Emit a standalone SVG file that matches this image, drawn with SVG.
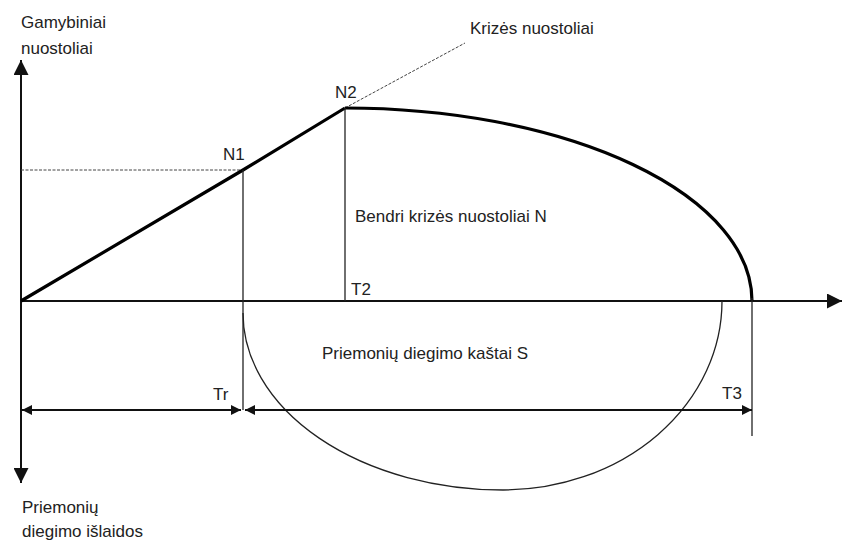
<svg xmlns="http://www.w3.org/2000/svg" width="842" height="546" viewBox="0 0 842 546">
<defs>
<marker id="ah" viewBox="0 0 10 10" refX="10" refY="5" markerWidth="10" markerHeight="10" markerUnits="userSpaceOnUse" orient="auto-start-reverse"><path d="M0,0 L10,5 L0,10 z" fill="#111"/></marker>
<marker id="big" viewBox="0 0 10 10" refX="10" refY="5" markerWidth="15" markerHeight="15" markerUnits="userSpaceOnUse" orient="auto-start-reverse"><path d="M0,0 L10,5 L0,10 z" fill="#111"/></marker>
</defs>
<style>
text{font-family:"Liberation Sans",Arial,sans-serif;font-size:17px;fill:#222}
.ax{stroke:#111;stroke-width:2;fill:none}
.thin{stroke:#222;stroke-width:1.3;fill:none}
.thick{stroke:#000;stroke-width:3.2;fill:none}
.dash{stroke:#444;stroke-width:1;stroke-dasharray:3 1.5;fill:none}
</style>
<rect width="842" height="546" fill="#fff"/>
<g id="connectors">
<line class="ax" x1="21" y1="301" x2="21" y2="60" marker-end="url(#big)"/>
<line class="ax" x1="21" y1="301" x2="21" y2="483" marker-end="url(#big)"/>
<line class="ax" x1="21" y1="301" x2="842" y2="301" marker-end="url(#big)"/>
<line class="dash" x1="21" y1="170" x2="243" y2="170"/>
<line class="dash" x1="345" y1="108" x2="465" y2="43"/>
<polyline class="thick" points="21,301 243,170 345,108"/>
<path class="thick" d="M345,108 A407,193 0 0 1 752,301" stroke-width="3.6"/>
<line class="thin" x1="243" y1="170" x2="243" y2="410"/>
<line class="thin" x1="345" y1="108" x2="345" y2="301"/>
<line class="thin" x1="752" y1="298" x2="752" y2="436"/>
<path class="thin" d="M243,313 A260,177 0 0 0 503,490 A219,189 0 0 0 722,301"/>
<line class="ax" x1="22" y1="410" x2="241" y2="410" marker-start="url(#ah)" marker-end="url(#ah)"/>
<line class="ax" x1="245" y1="410" x2="752" y2="410" marker-start="url(#ah)" marker-end="url(#ah)"/>
</g>
<g id="labels">
<text x="21" y="28">Gamybiniai</text>
<text x="21" y="54">nuostoliai</text>
<text x="470" y="34">Krizės nuostoliai</text>
<text x="335" y="98">N2</text>
<text x="223" y="160">N1</text>
<text x="355" y="222">Bendri krizės nuostoliai N</text>
<text x="351" y="295">T2</text>
<text x="322" y="359">Priemonių diegimo kaštai S</text>
<text x="213" y="400">Tr</text>
<text x="722" y="399">T3</text>
<text x="22" y="513">Priemonių</text>
<text x="22" y="537">diegimo išlaidos</text>
</g>
</svg>
